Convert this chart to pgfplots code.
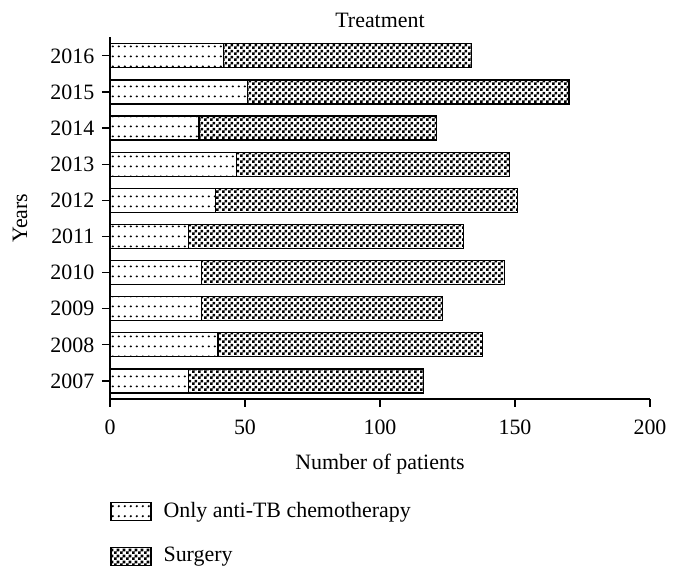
\documentclass[border=0pt]{standalone}
\usepackage{fontspec}
\setmainfont{Liberation Serif}
\usepackage{pgfplots}
\usepackage{pgfplotstable}
\pgfplotsset{compat=1.18}
\usetikzlibrary{patterns}

\pgfdeclarepatternformonly{mydots}{\pgfpointorigin}{\pgfqpoint{2.9bp}{5bp}}{\pgfqpoint{2.9bp}{5bp}}{\pgfpathcircle{\pgfqpoint{1.45bp}{2.5bp}}{0.6bp}\pgfusepath{fill}}
\pgfdeclarepatternformonly{mycheck}{\pgfpointorigin}{\pgfqpoint{3bp}{3bp}}{\pgfqpoint{3bp}{3bp}}{\pgfpathrectangle{\pgfpointorigin}{\pgfqpoint{1.5bp}{1.5bp}}\pgfpathrectangle{\pgfqpoint{1.5bp}{1.5bp}}{\pgfqpoint{1.5bp}{1.5bp}}\pgfusepath{fill}}

\pgfplotstableread{
year only surgery
2007 29 87
2008 40 98
2009 34 89
2010 34 112
2011 29 102
2012 39 112
2013 47 101
2014 33 88
2015 51 119
2016 42 92
}\datatable

\begin{document}
\fontsize{11}{13}\selectfont
\begin{tikzpicture}
\path[use as bounding box] (-55bp,-86bp) rectangle (284.5bp,199.5bp);
\begin{axis}[
  scale only axis,
  width=270bp, height=181bp,
  xbar stacked,
  bar width=12bp,
  xmin=0, xmax=200,
  ymin=2006.5, ymax=2016.52,
  xtick={0,50,100,150,200},
  ytick={2007,...,2016},
  yticklabel style={/pgf/number format/1000 sep={}},
  xticklabel style={yshift=-2.5bp},
  /pgf/number format/assume math mode=true,
  axis x line*=bottom, axis y line*=left,
  axis line style={-, line width=0.6bp, black},
  tick style={line width=0.6bp, black},
  tick align=outside,
  major tick length=4bp,
  ticklabel style={font=\fontsize{11}{13}\selectfont},
  title={Treatment},
  title style={at={(axis description cs:0.5,1.014)}, anchor=center, font=\fontsize{11}{13}\selectfont},
  xlabel={Number of patients},
  xlabel style={at={(axis description cs:0.5,-0.18)}, anchor=center, font=\fontsize{11}{13}\selectfont},
  ylabel={Years},
  ylabel style={at={(axis description cs:-0.1667,0.5)}, anchor=center, rotate=0, font=\fontsize{11}{13}\selectfont},
  legend style={at={(axis description cs:0,-0.272)}, anchor=north west, draw=none, fill=none,
    font=\fontsize{11}{13}\selectfont, row sep=8.5bp, inner sep=0pt,
    nodes={inner xsep=0pt, text depth=}, 
    /tikz/every odd column/.append style={column sep=6bp}},
  legend cell align=left,
  legend image code/.code={\draw[#1, draw=black, line width=0.6bp] (0bp,-4.5bp) rectangle (20bp,4.5bp);},
]
\addplot+[xbar, draw=black, line width=0.6bp, pattern=mydots, pattern color=black] table[x=only, y=year]{\datatable};
\addlegendentry{Only anti-TB chemotherapy}
\addplot+[xbar, draw=black, line width=0.6bp, pattern=mycheck, pattern color=black] table[x=surgery, y=year]{\datatable};
\addlegendentry{Surgery}
\end{axis}
\end{tikzpicture}
\end{document}
